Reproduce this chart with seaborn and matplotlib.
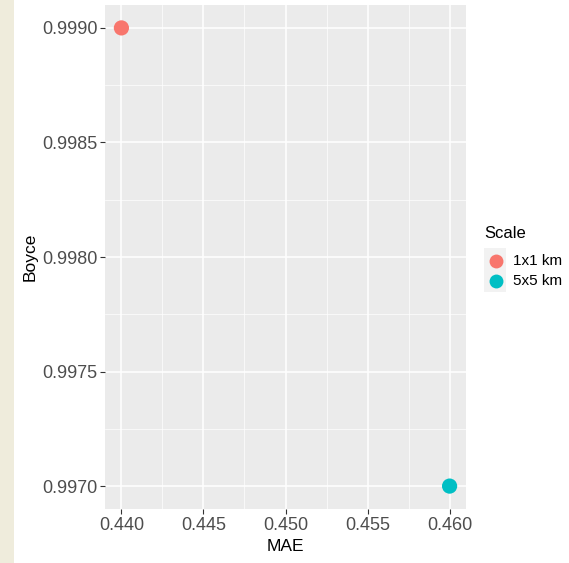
import numpy as np
import pandas as pd
import seaborn as sns
import matplotlib.pyplot as plt
from matplotlib.patches import Rectangle
from matplotlib.ticker import MultipleLocator

# data
scale = ['1x1 km', '5x5 km']
mae = [0.440, 0.460]
boyce = [0.9990, 0.9970]
colors = ['#F8766D', '#00BFC4']

df = pd.DataFrame({'MAE': mae, 'Boyce': boyce, 'Scale': scale})

plt.rcParams['font.family'] = ['Liberation Sans', 'DejaVu Sans']

W, H = 569, 563
fig = plt.figure(figsize=(W / 100, H / 100), dpi=100)
fig.patch.set_facecolor('white')

# beige strip on the left edge
fig.patches.append(Rectangle((0, 0), 14 / W, 1, transform=fig.transFigure,
                             facecolor='#EFECDC', edgecolor='none', zorder=0))

ax = fig.add_axes([105 / W, 1 - 509 / H, (466 - 105) / W, (509 - 5) / H])
ax.set_facecolor('#EBEBEB')

sns.scatterplot(data=df, x='MAE', y='Boyce', hue='Scale', palette=colors,
                s=120, edgecolor='none', ax=ax, legend=False, zorder=3)

ax.set_xlim(0.439, 0.461)
ax.set_ylim(0.9969, 0.9991)
ax.xaxis.set_major_locator(MultipleLocator(0.005))
ax.xaxis.set_minor_locator(MultipleLocator(0.0025))
ax.yaxis.set_major_locator(MultipleLocator(0.0005))
ax.yaxis.set_minor_locator(MultipleLocator(0.00025))
ax.xaxis.set_major_formatter(plt.FuncFormatter(lambda v, p: f'{v:.3f}'))
ax.yaxis.set_major_formatter(plt.FuncFormatter(lambda v, p: f'{v:.4f}'))

ax.grid(which='major', color='white', linewidth=1.1, zorder=1)
ax.grid(which='minor', color='white', linewidth=0.5, zorder=1)
ax.set_axisbelow(True)
for s in ax.spines.values():
    s.set_visible(False)

ax.tick_params(which='major', length=3.5, width=0.8, color='#333333',
               labelcolor='#4D4D4D', labelsize=13, pad=2)
ax.tick_params(which='minor', length=0)

ax.set_xlabel('MAE', fontsize=12.5, color='black', labelpad=4)
ax.set_ylabel('Boyce', fontsize=12.5, color='black', labelpad=3)

# legend
fig.text(484 / W, 1 - 234 / H, 'Scale', fontsize=12, va='center', ha='left')
fig.patches.append(Rectangle((484 / W, 1 - 292 / H), 22 / W, 44 / H,
                             transform=fig.transFigure, facecolor='#F2F2F2',
                             edgecolor='none'))
for i, (lab, c) in enumerate(zip(scale, colors)):
    yy = 1 - (261 + 20 * i) / H
    fig.add_artist(plt.Line2D([496 / W], [yy], marker='o', markersize=10,
                              color=c, markeredgewidth=0, linestyle='none',
                              transform=fig.transFigure))
    fig.text(513 / W, yy, lab, fontsize=11, va='center', ha='left')

fig.savefig('out.png', dpi=100)
